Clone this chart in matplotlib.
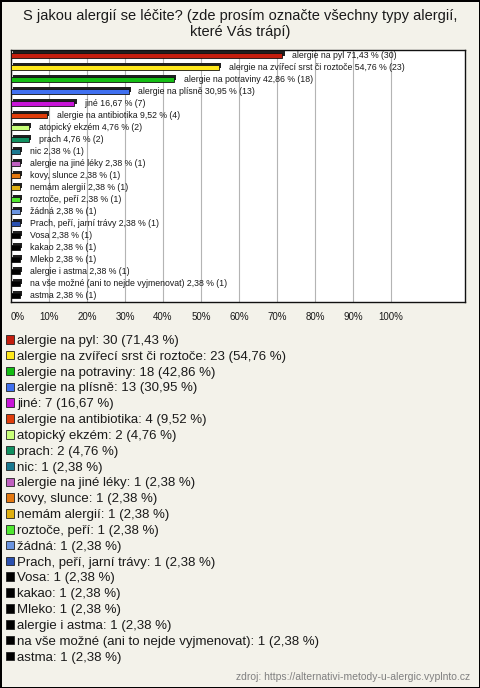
import matplotlib.pyplot as plt
import matplotlib.transforms as mtransforms
from matplotlib.patches import Patch

plt.rcParams['font.family'] = ['Liberation Sans', 'DejaVu Sans']

# data
categories = [
    'alergie na pyl', 'alergie na zvířecí srst či roztoče', 'alergie na potraviny',
    'alergie na plísně', 'jiné', 'alergie na antibiotika', 'atopický ekzém', 'prach',
    'nic', 'alergie na jiné léky', 'kovy, slunce', 'nemám alergií', 'roztoče, peří',
    'žádná', 'Prach, peří, jarní trávy', 'Vosa', 'kakao', 'Mleko', 'alergie i astma',
    'na vše možné (ani to nejde vyjmenovat)', 'astma',
]
counts = [30, 23, 18, 13, 7, 4, 2, 2, 1, 1, 1, 1, 1, 1, 1, 1, 1, 1, 1, 1, 1]
percents = [71.43, 54.76, 42.86, 30.95, 16.67, 9.52, 4.76, 4.76, 2.38, 2.38, 2.38,
            2.38, 2.38, 2.38, 2.38, 2.38, 2.38, 2.38, 2.38, 2.38, 2.38]
colors = ['#c41e0e', '#ffe81a', '#14be14', '#4070f0', '#c814d8', '#e03c0a',
          '#c8ff78', '#109060', '#1a7890', '#c060c0', '#e47810', '#e0b010',
          '#50e830', '#6a94e0', '#2a50b0', '#000000', '#000000', '#000000',
          '#000000', '#000000', '#000000']
xticks = [0, 10, 20, 30, 40, 50, 60, 70, 80, 90, 100]

bg = '#f3f2ea'
fig = plt.figure(figsize=(4.8, 6.88), dpi=100, facecolor=bg,
                 edgecolor='black', linewidth=2)

fig.text(0.5, 1 - 24 / 688, 'S jakou alergií se léčite? (zde prosím označte všechny typy alergií,\nkteré Vás trápí)',
         ha='center', va='center', fontsize=10.5, color='#1a1a1a', linespacing=1.1)

ax = fig.add_axes([11 / 480, 1 - 302 / 688, 454 / 480, 252 / 688])
ax.set_facecolor('white')
y = list(range(len(categories)))

# small 3D look: dark shadow copy shifted up-right
shadow = mtransforms.offset_copy(ax.transData, fig=fig, x=1.6, y=1.4, units='points')
ax.barh(y, percents, height=0.44, color='#202020', transform=shadow, zorder=2)
ax.barh(y, percents, height=0.44, color=colors, edgecolor='#111111',
        linewidth=0.6, zorder=3)

for yi, cat, p, c in zip(y, categories, percents, counts):
    label = f'{cat} {p:.2f} % ({c})'.replace('.', ',')
    ax.text(p + 2.6, yi, label, va='center', ha='left', fontsize=6.3,
            color='#1a1a1a', zorder=4)

ax.set_xlim(0, 119.5)
ax.set_ylim(len(categories) - 1 + 0.52, -0.44)
ax.set_yticks([])
ax.set_xticks(xticks)
ax.set_xticklabels([f'{t}%' for t in xticks], fontsize=7, color='#1a1a1a')
ax.get_xticklabels()[0].set_ha('left')
ax.tick_params(axis='x', length=0, pad=7)
ax.grid(axis='x', color='#b4b4b4', linewidth=0.8, zorder=0)
ax.set_axisbelow(True)
for s in ax.spines.values():
    s.set_color('#111111')
    s.set_linewidth(1)

handles = [Patch(facecolor=c, edgecolor='#222222', linewidth=0.6) for c in colors]
labels = [f'{cat}: {c} ({p:.2f} %)'.replace('.', ',') for cat, c, p in zip(categories, counts, percents)]
fig.legend(handles, labels, loc='upper left', bbox_to_anchor=(6 / 480, 1 - 335 / 688),
           frameon=False, fontsize=9.5, handlelength=0.62, handleheight=0.62,
           handletextpad=0.22, labelspacing=0.29, borderpad=0, borderaxespad=0,
           labelcolor='#1a1a1a')

fig.text(470 / 480, 1 - 677 / 688, 'zdroj: https://alternativi-metody-u-alergic.vyplnto.cz',
         ha='right', va='center', fontsize=7.5, color='#808080')

fig.savefig('out.png', dpi=100, facecolor=bg)
